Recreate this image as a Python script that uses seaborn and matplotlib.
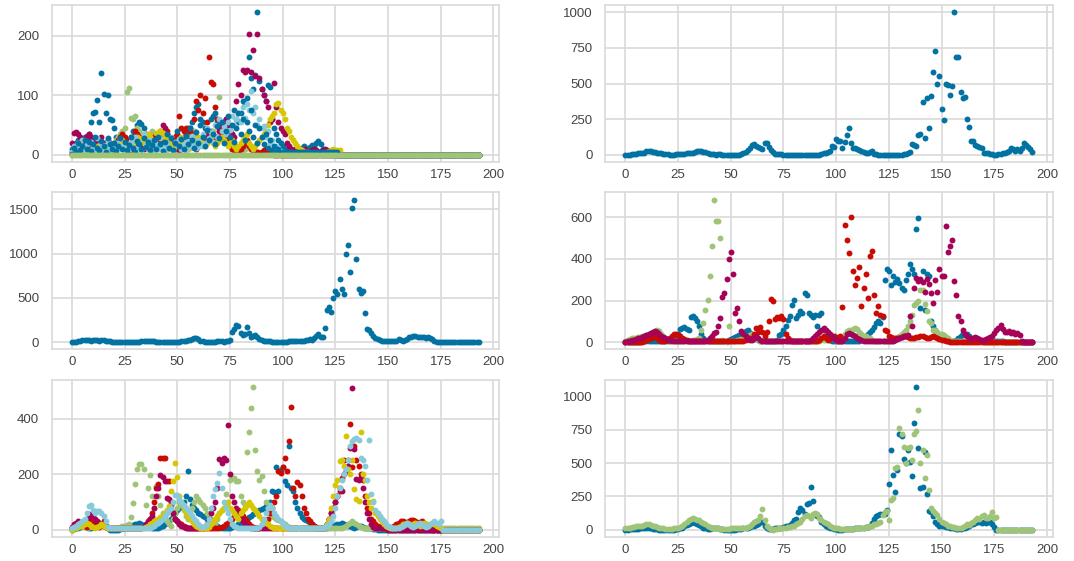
import numpy as np
import matplotlib
matplotlib.use('Agg')
import matplotlib.pyplot as plt
from matplotlib.ticker import MultipleLocator
import seaborn as sns

sns.set_style('whitegrid')
plt.rcParams['font.family'] = ['Liberation Sans', 'DejaVu Sans']

# yellowbrick-like palette
BLUE = '#0272a2'
GREEN = '#9fc377'
RED = '#ca0b03'
MAGENTA = '#a50258'
YELLOW = '#d7c703'
LIGHTBLUE = '#88cada'

# ---- panel 1 (top left) ----
p1_blue = [
    10, 15, 20, 25, 20, 15, 30, 25, 35, 55, 70, 72, 92, 55, 137, 102, 70, 100, 60, 58,
    45, 30, 25, 20, 15, 10, 18, 22, 30, 40, 35, 50, 55, 52, 45, 30, 25, 20, 15, 12,
    10, 15, 20, 25, 15, 10, 20, 15, 25, 30, 20, 15, 25, 30, 35, 40, 45, 55, 70, 80,
    85, 60, 55, 45, 30, 25, 40, 65, 70, 55, 45, 35, 50, 60, 40, 30, 35, 75, 60, 55,
    70, 90, 85, 95, 165, 130, 110, 135, 240, 125, 110, 100, 90, 118, 115, 60, 45, 35, 25, 20,
    15, 10, 8, 5, 5, 3, 5, 8, 10, 12, 15, 12, 10, 14, 17, 15, 20, 23, 18, 10,
    8, 5, 3, 0, 0, 0, 0, 0, 0, 0, 0, 0, 0, 0, 0, 0, 0, 0, 0, 0,
    0, 0, 0, 0, 0, 0, 0, 0, 0, 0, 0, 0, 0, 0, 0, 0, 0, 0, 0, 0,
    0, 0, 0, 0, 0, 0, 0, 0, 0, 0, 0, 0, 0, 0, 0, 0, 0, 0, 0, 0,
    0, 0, 0, 0, 0, 0, 0, 0, 0, 0, 0, 0, 0, 0]
p1_green = [
    5, 10, 15, 20, 15, 10, 5, 10, 15, 10, 5, 8, 10, 12, 15, 10, 8, 5, 10, 15,
    20, 25, 30, 35, 40, 45, 105, 112, 62, 60, 65, 45, 40, 35, 30, 25, 20, 35, 40, 30,
    25, 20, 15, 10, 8, 10, 12, 15, 20, 25, 20, 15, 10, 15, 20, 25, 30, 35, 40, 30,
    25, 20, 15, 20, 25, 30, 35, 40, 30, 25, 97, 40, 30, 25, 20, 15, 10, 8, 5, 5,
    5, 8, 10, 12, 15, 10, 8, 5, 5, 5, 5, 5, 5, 5, 5, 5, 5, 3, 2, 0,
    0, 0, 0, 0, 0, 0, 0, 0, 0, 0, 0, 0, 0, 0, 0, 0, 0, 0, 0, 0,
    0, 0, 0, 0, 0, 0, 0, 0, 0, 0, 0, 0, 0, 0, 0, 0, 0, 0, 0, 0,
    0, 0, 0, 0, 0, 0, 0, 0, 0, 0, 0, 0, 0, 0, 0, 0, 0, 0, 0, 0,
    0, 0, 0, 0, 0, 0, 0, 0, 0, 0, 0, 0, 0, 0, 0, 0, 0, 0, 0, 0,
    0, 0, 0, 0, 0, 0, 0, 0, 0, 0, 0, 0, 0, 0]
p1_red = [
    5, 8, 10, 12, 10, 15, 20, 15, 10, 12, 15, 10, 8, 5, 10, 15, 20, 25, 15, 10,
    15, 20, 25, 30, 35, 30, 25, 20, 25, 30, 40, 35, 30, 25, 20, 35, 30, 25, 20, 30,
    35, 30, 25, 30, 35, 40, 30, 25, 20, 30, 35, 65, 45, 40, 45, 45, 40, 35, 60, 90,
    75, 100, 70, 95, 55, 165, 123, 120, 80, 60, 45, 35, 30, 25, 20, 15, 10, 8, 5, 5,
    10, 15, 20, 25, 15, 10, 8, 5, 5, 3, 5, 8, 10, 5, 3, 2, 0, 0, 0, 0,
    0, 0, 0, 0, 0, 0, 0, 0, 0, 0, 0, 0, 0, 0, 0, 0, 0, 0, 0, 0,
    0, 0, 0, 0, 0, 0, 0, 0, 0, 0, 0, 0, 0, 0, 0, 0, 0, 0, 0, 0,
    0, 0, 0, 0, 0, 0, 0, 0, 0, 0, 0, 0, 0, 0, 0, 0, 0, 0, 0, 0,
    0, 0, 0, 0, 0, 0, 0, 0, 0, 0, 0, 0, 0, 0, 0, 0, 0, 0, 0, 0,
    0, 0, 0, 0, 0, 0, 0, 0, 0, 0, 0, 0, 0, 0]
p1_magenta = [
    20, 37, 39, 35, 30, 25, 20, 31, 35, 30, 25, 20, 15, 25, 30, 20, 15, 10, 20, 15,
    10, 15, 20, 25, 20, 15, 10, 8, 10, 15, 20, 25, 20, 15, 10, 12, 15, 18, 20, 25,
    30, 35, 40, 51, 45, 35, 30, 25, 20, 15, 10, 8, 10, 12, 15, 20, 25, 20, 15, 10,
    15, 20, 25, 30, 35, 40, 30, 25, 20, 30, 40, 50, 55, 60, 50, 40, 35, 30, 90, 120,
    100, 143, 140, 142, 203, 140, 177, 133, 204, 130, 110, 100, 90, 80, 55, 60, 121, 80, 55, 45,
    40, 35, 20, 15, 10, 8, 10, 8, 5, 8, 10, 8, 5, 6, 8, 10, 8, 5, 6, 8,
    10, 8, 5, 5, 3, 2, 0, 0, 0, 0, 0, 0, 0, 0, 0, 0, 0, 0, 0, 0,
    0, 0, 0, 0, 0, 0, 0, 0, 0, 0, 0, 0, 0, 0, 0, 0, 0, 0, 0, 0,
    0, 0, 0, 0, 0, 0, 0, 0, 0, 0, 0, 0, 0, 0, 0, 0, 0, 0, 0, 0,
    0, 0, 0, 0, 0, 0, 0, 0, 0, 0, 0, 0, 0, 0]
p1_yellow = [
    0, 5, 8, 10, 12, 15, 10, 8, 5, 8, 10, 12, 15, 10, 8, 5, 10, 12, 15, 10,
    8, 10, 15, 20, 25, 20, 15, 10, 15, 20, 25, 30, 28, 25, 20, 30, 35, 30, 25, 20,
    37, 35, 40, 37, 30, 25, 20, 15, 10, 15, 20, 25, 30, 20, 15, 10, 12, 15, 20, 25,
    30, 25, 20, 15, 20, 25, 30, 20, 15, 20, 25, 30, 25, 20, 15, 20, 25, 15, 10, 15,
    20, 25, 30, 35, 20, 15, 10, 15, 20, 25, 30, 35, 40, 50, 60, 65, 70, 85, 88, 75,
    71, 60, 45, 40, 30, 25, 20, 15, 10, 8, 5, 5, 5, 3, 3, 2, 2, 2, 2, 2,
    3, 5, 6, 8, 10, 9, 8, 9, 0, 0, 0, 0, 0, 0, 0, 0, 0, 0, 0, 0,
    0, 0, 0, 0, 0, 0, 0, 0, 0, 0, 0, 0, 0, 0, 0, 0, 0, 0, 0, 0,
    0, 0, 0, 0, 0, 0, 0, 0, 0, 0, 0, 0, 0, 0, 0, 0, 0, 0, 0, 0,
    0, 0, 0, 0, 0, 0, 0, 0, 0, 0, 0, 0, 0, 0]
p1_lightblue = [
    5, 15, 8, 20, 12, 25, 10, 18, 6, 22, 14, 8, 28, 12, 20, 6, 16, 24, 10, 14,
    8, 20, 12, 26, 15, 6, 18, 10, 24, 14, 30, 12, 22, 8, 35, 16, 10, 25, 14, 6,
    18, 10, 28, 14, 6, 20, 12, 30, 8, 22, 16, 26, 10, 18, 6, 24, 14, 32, 20, 12,
    25, 15, 35, 20, 45, 28, 38, 22, 50, 30, 60, 40, 48, 35, 55, 42, 65, 50, 60, 70,
    55, 80, 62, 85, 75, 108, 70, 80, 50, 60, 45, 48, 30, 40, 20, 25, 12, 15, 8, 5,
    5, 3, 2, 0, 0, 0, 0, 0, 0, 0, 0, 0, 0, 0, 0, 0, 0, 0, 0, 0,
    0, 0, 0, 0, 0, 0, 0, 0, 0, 0, 0, 0, 0, 0, 0, 0, 0, 0, 0, 0,
    0, 0, 0, 0, 0, 0, 0, 0, 0, 0, 0, 0, 0, 0, 0, 0, 0, 0, 0, 0,
    0, 0, 0, 0, 0, 0, 0, 0, 0, 0, 0, 0, 0, 0, 0, 0, 0, 0, 0, 0,
    0, 0, 0, 0, 0, 0, 0, 0, 0, 0, 0, 0, 0, 0]
p1_blue_b = [
    2, 12, 5, 20, 8, 15, 25, 10, 22, 6, 18, 30, 12, 8, 24, 15, 5, 28, 18, 10,
    20, 6, 15, 28, 10, 22, 8, 16, 30, 12, 5, 24, 18, 10, 28, 14, 22, 8, 16, 25,
    10, 30, 18, 6, 22, 35, 12, 28, 8, 20, 40, 15, 26, 10, 32, 18, 45, 25, 12, 38,
    20, 50, 30, 15, 42, 25, 60, 35, 18, 48, 28, 55, 20, 40, 65, 30, 50, 22, 45, 70,
    35, 60, 25, 55, 40, 75, 30, 50, 20, 45, 30, 18, 35, 12, 25, 8, 15, 5, 10, 3,
    5, 5, 5, 5, 5, 5, 5, 5, 5, 5, 5, 5, 5, 5, 5, 5, 5, 5, 5, 5,
    5, 5, 5, 5, 5, 5, 5, 0, 0, 0, 0, 0, 0, 0, 0, 0, 0, 0, 0, 0,
    0, 0, 0, 0, 0, 0, 0, 0, 0, 0, 0, 0, 0, 0, 0, 0, 0, 0, 0, 0,
    0, 0, 0, 0, 0, 0, 0, 0, 0, 0, 0, 0, 0, 0, 0, 0, 0, 0, 0, 0,
    0, 0, 0, 0, 0, 0, 0, 0, 0, 0, 0, 0, 0, 0]
p1_green_b = [
    0, 0, 0, 0, 0, 0, 0, 0, 0, 0, 0, 0, 0, 0, 0, 0, 0, 0, 0, 0,
    0, 0, 0, 0, 0, 0, 0, 0, 0, 0, 0, 0, 0, 0, 0, 0, 0, 0, 0, 0,
    0, 0, 0, 0, 0, 0, 0, 0, 0, 0, 0, 0, 0, 0, 0, 0, 0, 0, 0, 0,
    0, 0, 0, 0, 0, 0, 0, 0, 0, 0, 0, 0, 0, 0, 0, 0, 0, 0, 0, 0,
    0, 0, 0, 0, 0, 0, 0, 0, 0, 0, 0, 0, 0, 0, 0, 0, 0, 0, 0, 0,
    0, 0, 0, 0, 0, 0, 0, 0, 0, 0, 0, 0, 0, 0, 0, 0, 0, 0, 0, 0,
    0, 0, 0, 0, 0, 0, 0, 0, 0, 0, 0, 0, 0, 0, 0, 0, 0, 0, 0, 0,
    0, 0, 0, 0, 0, 0, 0, 0, 0, 0, 0, 0, 0, 0, 0, 0, 0, 0, 0, 0,
    0, 0, 0, 0, 0, 0, 0, 0, 0, 0, 0, 0, 0, 0, 0, 0, 0, 0, 0, 0,
    0, 0, 0, 0, 0, 0, 0, 0, 0, 0, 0, 0, 0, 0]

# ---- panel 2 (top right) ----
p2_blue = [
    0, 0, 2, 3, 5, 8, 10, 12, 12, 14, 25, 28, 25, 20, 18, 15, 12, 10, 8, 5,
    3, 2, 0, 2, 5, 4, 3, 5, 8, 10, 12, 10, 15, 20, 25, 27, 25, 22, 18, 12,
    8, 5, 3, 2, 5, 3, 2, 0, 0, 0, 0, 0, 0, 0, 2, 5, 10, 20, 35, 50,
    70, 75, 65, 55, 45, 40, 85, 80, 55, 35, 20, 5, 5, 3, 5, 2, 0, 0, 0, 0,
    0, 0, 0, 0, 0, 0, 0, 0, 0, 0, 0, 0, 2, 5, 10, 15, 20, 30, 60, 55,
    110, 100, 95, 45, 90, 140, 185, 80, 50, 45, 40, 35, 30, 20, 15, 15, 20, 25, 5, 3,
    0, 0, 0, 0, 0, 0, 0, 0, 2, 0, 0, 2, 5, 8, 15, 20, 75, 70, 60, 140,
    145, 370, 120, 400, 185, 410, 580, 730, 500, 550, 320, 245, 500, 490, 420, 485, 1000, 685, 685, 440,
    400, 405, 250, 195, 100, 95, 70, 60, 55, 45, 15, 10, 10, 5, 5, 0, 0, 5, 5, 10,
    10, 20, 30, 45, 40, 25, 40, 30, 45, 80, 70, 55, 40, 20]

# ---- panel 3 (middle left) ----
p3_blue = [
    0, 0, 5, 15, 20, 25, 25, 25, 25, 20, 25, 25, 25, 20, 25, 25, 20, 15, 10, 5,
    5, 0, 0, 0, 0, 0, 0, 0, 0, 5, 5, 5, 5, 10, 15, 15, 15, 15, 15, 10,
    5, 5, 0, 0, 0, 0, 0, 0, 0, 5, 5, 5, 10, 15, 20, 25, 30, 35, 45, 50,
    35, 20, 10, 5, 0, 0, 0, 5, 5, 10, 15, 10, 5, 20, 20, 30, 120, 150, 200, 185,
    100, 80, 90, 175, 110, 60, 70, 80, 60, 40, 30, 20, 15, 10, 10, 5, 0, 0, 0, 0,
    0, 5, 5, 10, 20, 15, 10, 10, 10, 15, 20, 30, 25, 35, 30, 50, 70, 90, 60, 55,
    160, 370, 400, 340, 500, 580, 550, 710, 600, 550, 1000, 1100, 790, 1520, 1610, 940, 600, 560, 580, 330,
    150, 140, 100, 70, 50, 40, 30, 20, 15, 10, 10, 10, 15, 15, 20, 40, 30, 20, 25, 40,
    55, 65, 70, 70, 65, 60, 60, 55, 50, 55, 45, 40, 10, 0, 0, 0, 0, 0, 0, 0,
    0, 0, 0, 0, 0, 0, 0, 0, 0, 0, 0, 0, 0, 0]

# ---- panel 4 (middle right) ----
p4_blue = [
    0, 0, 0, 0, 0, 0, 0, 0, 5, 5, 5, 5, 5, 5, 5, 5, 5, 5, 5, 5,
    5, 5, 10, 15, 20, 40, 65, 70, 75, 65, 60, 122, 124, 116, 100, 76, 40, 20, 10, 5,
    5, 5, 5, 5, 5, 5, 5, 5, 5, 10, 15, 20, 25, 30, 35, 40, 45, 55, 60, 44,
    30, 20, 15, 10, 5, 5, 5, 5, 5, 5, 5, 5, 10, 35, 40, 60, 80, 108, 124, 180,
    205, 116, 130, 148, 140, 237, 229, 140, 132, 120, 132, 76, 132, 140, 60, 30, 15, 10, 5, 5,
    5, 5, 5, 5, 5, 5, 5, 5, 5, 5, 5, 5, 10, 20, 30, 40, 50, 60, 75, 92,
    100, 95, 120, 301, 353, 342, 275, 318, 290, 302, 286, 260, 253, 300, 330, 374, 350, 330, 543, 595,
    165, 342, 155, 326, 320, 100, 80, 60, 44, 30, 20, 15, 10, 5, 5, 5, 5, 10, 20, 30,
    44, 35, 40, 30, 20, 15, 10, 5, 5, 5, 5, 5, 5, 5, 5, 5, 5, 5, 5, 5,
    0, 0, 0, 0, 0, 0, 0, 0, 0, 0, 0, 0, 0, 0]
p4_green = [
    5, 10, 15, 20, 20, 20, 25, 25, 30, 30, 35, 40, 45, 50, 55, 60, 55, 40, 30, 20,
    15, 10, 10, 5, 5, 5, 5, 5, 5, 5, 5, 5, 10, 10, 15, 20, 60, 92, 156, 205,
    318, 463, 685, 580, 580, 503, 10, 5, 0, 76, 5, 5, 5, 10, 10, 15, 20, 25, 30, 35,
    40, 30, 20, 10, 5, 5, 5, 5, 5, 5, 5, 5, 5, 5, 5, 5, 5, 5, 5, 5,
    5, 5, 5, 5, 5, 5, 5, 5, 5, 5, 5, 5, 5, 10, 10, 10, 15, 15, 20, 20,
    10, 5, 5, 10, 40, 55, 60, 50, 65, 70, 65, 50, 40, 30, 30, 20, 20, 10, 5, 5,
    5, 5, 5, 5, 5, 5, 5, 5, 10, 20, 30, 40, 50, 60, 80, 100, 130, 180, 190, 200,
    250, 250, 185, 150, 100, 95, 60, 60, 50, 40, 40, 35, 25, 20, 10, 5, 5, 5, 5, 5,
    5, 5, 5, 5, 5, 5, 5, 5, 5, 5, 0, 0, 0, 0, 0, 0, 0, 0, 0, 0,
    0, 0, 0, 0, 0, 0, 0, 0, 0, 0, 0, 0, 0, 0]
p4_red = [
    0, 0, 0, 0, 0, 0, 0, 0, 0, 5, 10, 15, 20, 25, 30, 20, 10, 5, 5, 5,
    10, 20, 30, 40, 40, 35, 30, 20, 15, 10, 5, 5, 5, 5, 5, 5, 5, 5, 5, 5,
    5, 5, 5, 5, 5, 5, 5, 5, 5, 5, 5, 5, 5, 5, 5, 5, 5, 10, 15, 20,
    20, 40, 70, 50, 75, 50, 30, 50, 100, 210, 196, 110, 120, 115, 124, 110, 40, 20, 10, 5,
    5, 5, 5, 5, 5, 5, 5, 5, 5, 5, 5, 5, 10, 20, 30, 20, 10, 15, 20, 30,
    25, 20, 30, 168, 563, 490, 427, 600, 342, 277, 310, 363, 176, 261, 326, 213, 414, 439, 229, 140,
    176, 132, 124, 60, 52, 30, 25, 20, 20, 20, 20, 25, 30, 30, 25, 20, 20, 20, 25, 25,
    30, 30, 25, 20, 20, 25, 30, 24, 20, 15, 10, 10, 5, 5, 0, 0, 0, 0, 0, 0,
    0, 0, 0, 0, 0, 0, 0, 0, 0, 0, 0, 0, 0, 0, 0, 0, 0, 0, 0, 0,
    0, 0, 0, 0, 0, 0, 0, 0, 0, 0, 0, 0, 0, 0]
p4_magenta = [
    0, 5, 5, 10, 10, 15, 20, 20, 25, 30, 35, 40, 45, 50, 55, 50, 40, 30, 25, 20,
    15, 10, 5, 5, 5, 5, 5, 5, 5, 5, 5, 5, 5, 5, 5, 5, 5, 5, 5, 10,
    20, 30, 45, 50, 76, 116, 218, 237, 305, 398, 434, 326, 140, 165, 100, 56, 40, 30, 20, 10,
    10, 20, 30, 20, 10, 5, 5, 5, 5, 5, 5, 5, 5, 5, 5, 5, 5, 5, 5, 5,
    5, 5, 5, 5, 5, 5, 5, 5, 10, 20, 30, 40, 50, 60, 70, 60, 50, 40, 30, 20,
    10, 5, 5, 5, 20, 40, 45, 40, 35, 30, 20, 15, 10, 5, 5, 5, 5, 5, 5, 5,
    5, 5, 5, 5, 5, 5, 5, 5, 10, 15, 20, 25, 30, 30, 35, 124, 76, 261, 310, 294,
    305, 290, 240, 305, 280, 237, 189, 300, 240, 353, 318, 318, 556, 434, 463, 492, 294, 229, 124, 100,
    60, 40, 30, 20, 15, 20, 25, 20, 15, 10, 10, 15, 20, 25, 30, 44, 60, 70, 85, 65,
    50, 48, 52, 45, 48, 40, 45, 35, 5, 0, 0, 0, 0, 0]

# ---- panel 5 (bottom left) ----
p5_blue = [
    0, 2, 5, 8, 10, 12, 15, 10, 8, 5, 10, 15, 20, 25, 20, 15, 10, 5, 0, 0,
    0, 0, 0, 2, 5, 8, 10, 12, 15, 18, 20, 22, 25, 20, 18, 15, 12, 10, 8, 5,
    5, 8, 10, 15, 20, 25, 30, 40, 50, 60, 70, 80, 90, 100, 120, 210, 110, 90, 80, 70,
    60, 55, 50, 45, 40, 35, 30, 25, 20, 15, 10, 8, 5, 5, 5, 8, 10, 12, 15, 20,
    25, 30, 35, 40, 45, 50, 55, 60, 65, 70, 75, 80, 85, 90, 100, 140, 135, 225, 140, 215,
    225, 175, 160, 300, 150, 140, 100, 80, 60, 45, 40, 35, 30, 25, 20, 15, 10, 8, 5, 5,
    5, 8, 10, 12, 15, 18, 20, 22, 25, 20, 18, 15, 12, 10, 8, 10, 12, 15, 10, 8,
    5, 5, 5, 3, 2, 0, 0, 0, 0, 0, 0, 0, 0, 0, 0, 0, 0, 0, 0, 0,
    0, 0, 0, 0, 0, 0, 0, 0, 0, 0, 0, 0, 0, 0, 0, 0, 0, 0, 0, 0,
    0, 0, 0, 0, 0, 0, 0, 0, 0, 0, 0, 0, 0, 0]
p5_green = [
    0, 5, 10, 15, 20, 15, 10, 5, 10, 15, 20, 25, 30, 25, 20, 15, 10, 5, 5, 5,
    5, 5, 8, 10, 12, 15, 18, 20, 45, 95, 163, 217, 237, 237, 219, 90, 150, 196, 120, 80,
    157, 120, 90, 60, 45, 30, 20, 15, 40, 60, 80, 100, 90, 70, 50, 40, 60, 80, 100, 120,
    110, 100, 90, 80, 60, 50, 40, 30, 20, 40, 60, 70, 80, 128, 100, 180, 185, 187, 175, 177,
    120, 100, 90, 281, 353, 440, 514, 289, 213, 180, 195, 140, 100, 80, 60, 50, 45, 40, 35, 30,
    25, 20, 15, 10, 8, 5, 5, 5, 5, 5, 5, 5, 5, 5, 5, 5, 5, 5, 5, 5,
    5, 5, 5, 5, 5, 5, 5, 5, 5, 10, 15, 20, 25, 30, 25, 20, 15, 10, 5, 5,
    5, 5, 5, 5, 5, 5, 5, 5, 5, 5, 5, 5, 5, 5, 5, 5, 5, 5, 5, 5,
    5, 5, 5, 5, 5, 5, 5, 5, 5, 5, 5, 5, 5, 5, 5, 5, 5, 5, 5, 5,
    5, 5, 5, 5, 5, 5, 5, 5, 5, 5, 5, 5, 5, 5]
p5_red = [
    5, 10, 15, 20, 25, 20, 15, 10, 20, 30, 25, 20, 15, 10, 20, 30, 15, 10, 5, 5,
    5, 5, 5, 5, 5, 5, 5, 5, 5, 5, 5, 5, 5, 5, 10, 15, 20, 40, 60, 100,
    150, 163, 258, 259, 257, 176, 175, 100, 60, 40, 30, 25, 20, 15, 10, 8, 5, 5, 5, 5,
    5, 5, 5, 5, 5, 5, 5, 5, 5, 5, 5, 10, 15, 20, 25, 30, 40, 50, 60, 70,
    60, 50, 40, 30, 20, 15, 10, 8, 5, 5, 10, 20, 30, 40, 60, 80, 100, 120, 210, 205,
    225, 257, 210, 320, 443, 150, 120, 172, 160, 120, 80, 60, 40, 30, 20, 15, 10, 8, 5, 5,
    10, 20, 40, 60, 80, 100, 120, 140, 185, 250, 225, 250, 380, 225, 300, 250, 230, 200, 180, 120,
    80, 60, 40, 30, 20, 15, 10, 8, 5, 5, 5, 5, 10, 15, 20, 25, 30, 30, 28, 25,
    30, 36, 35, 30, 25, 28, 30, 25, 20, 15, 10, 0, 0, 0, 0, 0, 0, 0, 0, 0,
    0, 0, 0, 0, 0, 0, 0, 0, 0, 0, 0, 0, 0, 0]
p5_magenta = [
    10, 20, 25, 30, 25, 20, 30, 40, 57, 50, 45, 40, 30, 25, 20, 15, 10, 5, 5, 5,
    5, 5, 5, 5, 5, 5, 5, 5, 5, 5, 5, 5, 5, 5, 10, 20, 30, 40, 50, 80,
    120, 150, 196, 190, 175, 115, 110, 90, 60, 40, 30, 20, 15, 10, 5, 5, 5, 5, 5, 5,
    5, 5, 5, 10, 20, 40, 60, 80, 100, 150, 255, 240, 257, 250, 377, 201, 120, 100, 80, 60,
    40, 30, 20, 15, 10, 8, 5, 5, 5, 5, 5, 5, 5, 5, 5, 5, 5, 5, 5, 5,
    5, 5, 5, 5, 5, 5, 5, 5, 5, 5, 5, 5, 5, 5, 5, 5, 5, 5, 5, 5,
    10, 20, 40, 60, 80, 100, 120, 150, 140, 200, 210, 230, 295, 510, 290, 181, 180, 190, 150, 100,
    60, 40, 20, 10, 5, 5, 5, 5, 5, 5, 0, 0, 0, 0, 0, 0, 0, 0, 0, 0,
    0, 0, 0, 0, 0, 0, 0, 0, 0, 0, 0, 0, 0, 0, 0, 0, 0, 0, 0, 0,
    0, 0, 0, 0, 0, 0, 0, 0, 0, 0, 0, 0, 0, 0]
p5_yellow = [
    0, 5, 8, 10, 12, 15, 20, 25, 20, 15, 10, 8, 10, 15, 20, 15, 10, 5, 5, 5,
    5, 5, 5, 5, 5, 5, 5, 5, 5, 5, 5, 5, 5, 5, 5, 10, 15, 20, 25, 30,
    35, 40, 45, 50, 60, 70, 84, 139, 175, 241, 190, 120, 100, 80, 60, 50, 40, 30, 20, 15,
    10, 8, 5, 5, 5, 10, 20, 30, 40, 50, 60, 70, 80, 90, 100, 80, 70, 60, 50, 40,
    60, 70, 80, 90, 100, 90, 80, 70, 60, 50, 40, 30, 25, 20, 15, 10, 8, 5, 5, 5,
    5, 5, 5, 5, 5, 5, 5, 5, 5, 5, 5, 5, 5, 5, 5, 5, 5, 5, 5, 5,
    10, 20, 40, 80, 120, 160, 180, 249, 250, 230, 337, 220, 200, 250, 145, 110, 102, 353, 199, 180,
    120, 100, 80, 102, 60, 50, 40, 30, 20, 15, 10, 8, 5, 5, 5, 10, 15, 20, 20, 25,
    20, 15, 20, 25, 20, 15, 20, 25, 20, 15, 20, 25, 20, 15, 10, 5, 0, 0, 0, 0,
    0, 0, 0, 0, 0, 0, 0, 0, 0, 0, 0, 0, 0, 0]
p5_lightblue = [
    5, 10, 15, 20, 25, 30, 40, 60, 85, 90, 70, 60, 66, 66, 60, 50, 30, 10, 5, 5,
    5, 5, 5, 5, 5, 5, 5, 5, 5, 5, 5, 5, 5, 5, 5, 5, 5, 5, 10, 15,
    20, 25, 30, 40, 50, 60, 70, 80, 100, 125, 125, 110, 100, 90, 80, 70, 60, 50, 40, 30,
    20, 15, 10, 15, 20, 40, 80, 120, 145, 170, 205, 150, 100, 80, 60, 40, 20, 15, 10, 8,
    5, 5, 5, 5, 5, 5, 5, 5, 5, 10, 20, 40, 60, 80, 90, 80, 60, 50, 40, 30,
    20, 15, 10, 5, 5, 5, 5, 5, 5, 5, 5, 5, 5, 5, 5, 5, 5, 5, 5, 5,
    10, 15, 20, 30, 50, 80, 120, 150, 180, 200, 220, 250, 300, 320, 328, 330, 325, 260, 250, 230,
    180, 325, 130, 100, 72, 60, 50, 40, 30, 20, 15, 10, 8, 5, 5, 5, 10, 15, 20, 25,
    20, 15, 10, 15, 20, 25, 20, 15, 10, 15, 20, 25, 30, 25, 20, 30, 0, 0, 0, 0,
    0, 0, 0, 0, 0, 0, 0, 0, 0, 0, 0, 0, 0, 0]

# ---- panel 6 (bottom right) ----
p6_blue = [
    0, 0, 5, 5, 5, 5, 5, 10, 10, 10, 10, 10, 10, 5, 5, 5, 0, 0, 0, 0,
    0, 0, 0, 0, 5, 5, 10, 15, 25, 35, 45, 50, 55, 50, 45, 35, 25, 15, 10, 5,
    5, 10, 15, 15, 10, 5, 5, 0, 0, 0, 0, 0, 0, 5, 5, 5, 10, 10, 15, 20,
    25, 30, 35, 40, 55, 60, 30, 10, 5, 5, 5, 10, 10, 10, 15, 20, 25, 30, 35, 50,
    70, 80, 130, 160, 145, 120, 190, 200, 320, 215, 120, 100, 95, 60, 40, 30, 20, 15, 10, 5,
    5, 0, 0, 0, 5, 5, 5, 5, 5, 10, 10, 10, 15, 15, 20, 20, 30, 50, 80, 100,
    110, 115, 115, 120, 150, 340, 600, 410, 280, 450, 720, 700, 530, 500, 600, 510, 400, 800, 1070, 610,
    310, 320, 580, 270, 140, 130, 100, 60, 40, 30, 30, 25, 20, 20, 15, 10, 10, 5, 5, 5,
    10, 15, 20, 30, 40, 45, 50, 60, 55, 50, 60, 50, 55, 60, 40, 20, 0, 0, 0, 0,
    0, 0, 0, 0, 0, 0, 0, 0, 0, 0, 0, 0, 0, 0]
p6_green = [
    10, 10, 15, 20, 20, 25, 25, 30, 30, 35, 40, 40, 35, 30, 25, 20, 15, 10, 10, 5,
    5, 5, 5, 10, 10, 15, 20, 30, 45, 55, 70, 80, 85, 80, 75, 70, 60, 50, 40, 30,
    20, 15, 10, 10, 10, 5, 5, 5, 5, 5, 10, 10, 10, 10, 10, 10, 15, 15, 20, 30,
    40, 55, 65, 70, 100, 155, 70, 30, 10, 5, 0, 5, 5, 10, 10, 10, 15, 20, 20, 25,
    30, 40, 50, 60, 80, 100, 110, 105, 90, 120, 125, 115, 90, 70, 60, 50, 40, 30, 20, 15,
    10, 10, 5, 5, 5, 5, 5, 5, 5, 10, 10, 15, 15, 15, 20, 20, 25, 30, 40, 45,
    50, 55, 110, 130, 140, 70, 220, 240, 460, 470, 760, 720, 620, 500, 610, 620, 520, 720, 740, 900,
    500, 600, 390, 560, 300, 160, 140, 125, 110, 80, 60, 50, 40, 30, 25, 20, 20, 15, 10, 15,
    20, 30, 40, 35, 50, 60, 70, 90, 80, 100, 110, 90, 85, 100, 130, 90, 95, 0, 0, 0,
    0, 0, 0, 0, 0, 0, 0, 0, 0, 0, 0, 0, 0, 0]

# draw order matters: later series sit on top
panels = [
    ([p1_blue, p1_green, p1_red, p1_magenta, p1_yellow, p1_lightblue, p1_blue_b, p1_green_b],
     [BLUE, GREEN, RED, MAGENTA, YELLOW, LIGHTBLUE, BLUE, GREEN], 100),
    ([p2_blue], [BLUE], 250),
    ([p3_blue], [BLUE], 500),
    ([p4_blue, p4_green, p4_red, p4_magenta], [BLUE, GREEN, RED, MAGENTA], 200),
    ([p5_blue, p5_green, p5_red, p5_magenta, p5_yellow, p5_lightblue],
     [BLUE, GREEN, RED, MAGENTA, YELLOW, LIGHTBLUE], 200),
    ([p6_blue, p6_green], [BLUE, GREEN], 250),
]

bad = [(i, j, len(s)) for i, (ser, _, _) in enumerate(panels) for j, s in enumerate(ser) if len(s) != 194]
assert not bad, bad

fig, axes = plt.subplots(3, 2, figsize=(10.74, 5.61), dpi=100)
fig.subplots_adjust(left=0.048, right=0.98, top=0.991, bottom=0.043,
                    wspace=0.237, hspace=0.194)

for ax, (series, colors, ystep) in zip(axes.flat, panels):
    for vals, col in zip(series, colors):
        days = np.arange(len(vals))
        sns.scatterplot(x=days, y=vals, color=col, s=18, linewidth=0, ax=ax)
    ax.xaxis.set_major_locator(MultipleLocator(25))
    ax.yaxis.set_major_locator(MultipleLocator(ystep))
    ax.grid(True, color='#d9d9d9', linewidth=1.2)
    for sp in ax.spines.values():
        sp.set_color('#d9d9d9')
        sp.set_linewidth(1.2)
    ax.tick_params(axis='both', labelsize=9.5, labelcolor='#444444', length=0)
    ax.tick_params(axis='y', pad=9)
    ax.tick_params(axis='x', pad=5)
    ax.set_xlabel('')
    ax.set_ylabel('')

fig.savefig('out.png', dpi=100, facecolor='white')
